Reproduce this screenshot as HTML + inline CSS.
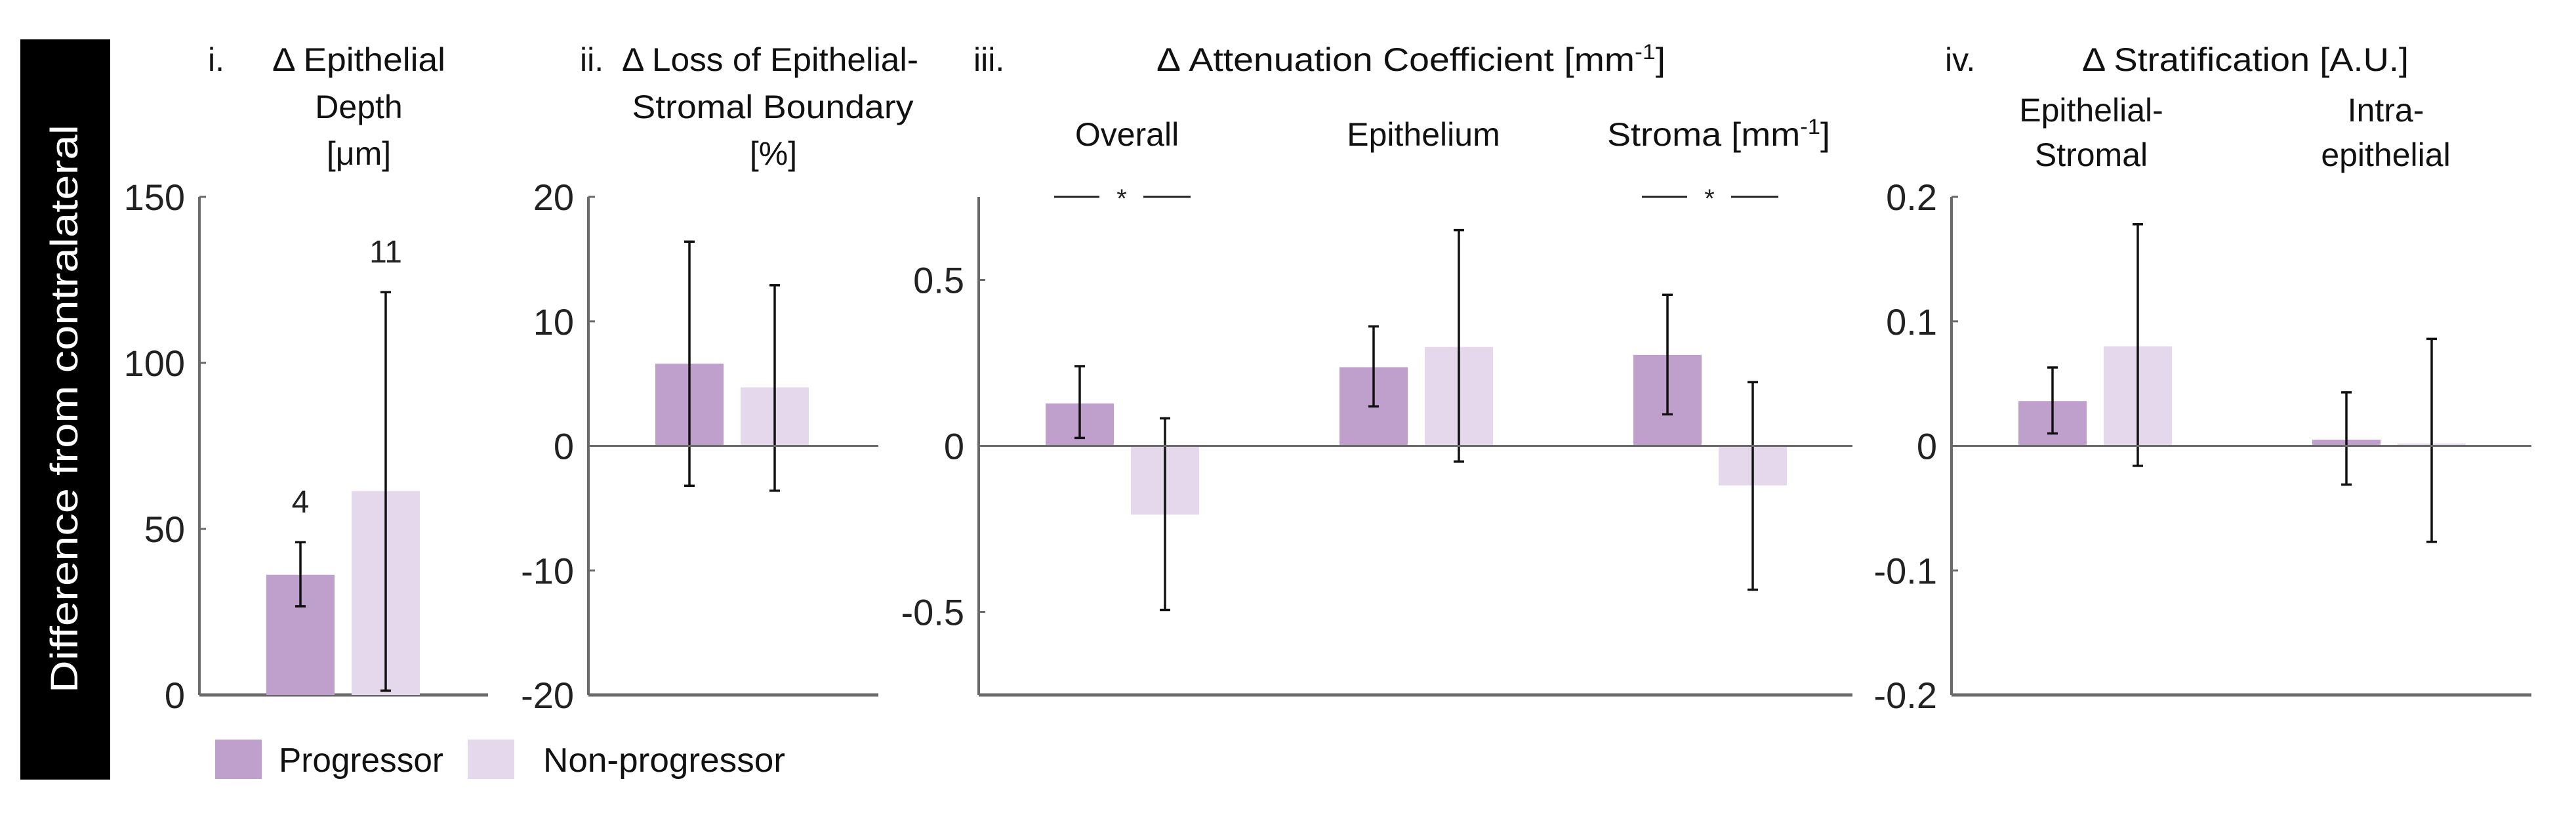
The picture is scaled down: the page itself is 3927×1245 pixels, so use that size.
<!DOCTYPE html>
<html><head><meta charset="utf-8"><style>
html,body{margin:0;padding:0;background:#fff;}
svg{display:block;font-family:"Liberation Sans",sans-serif;}
</style></head><body>
<svg id="chart" width="3927" height="1245" viewBox="0 0 3927 1245" xmlns="http://www.w3.org/2000/svg">
<rect x="31" y="60" width="137" height="1128" fill="#000"/>
<text transform="translate(118,623) rotate(-90)" text-anchor="middle" font-size="58" fill="#fff" textLength="866" lengthAdjust="spacingAndGlyphs">Difference from contralateral</text>

<g font-size="50" fill="#111">
<text x="317" y="108">i.</text>
<text x="547" y="108" text-anchor="middle" textLength="264" lengthAdjust="spacingAndGlyphs">Δ Epithelial</text>
<text x="547" y="180" text-anchor="middle">Depth</text>
<text x="547" y="251" text-anchor="middle">[μm]</text>
<text x="884" y="108">ii.</text>
<text x="1174" y="108" text-anchor="middle" textLength="452" lengthAdjust="spacingAndGlyphs">Δ Loss of Epithelial-</text>
<text x="1178" y="180" text-anchor="middle" textLength="429" lengthAdjust="spacingAndGlyphs">Stromal Boundary</text>
<text x="1179" y="251" text-anchor="middle">[%]</text>
<text x="1484" y="108">iii.</text>
<text x="2151" y="108" text-anchor="middle" textLength="776" lengthAdjust="spacingAndGlyphs">Δ Attenuation Coefficient [mm<tspan dy="-18" font-size="32">-1</tspan><tspan dy="18">]</tspan></text>
<text x="1718" y="222" text-anchor="middle">Overall</text>
<text x="2170" y="222" text-anchor="middle">Epithelium</text>
<text x="2620" y="222" text-anchor="middle" textLength="340" lengthAdjust="spacingAndGlyphs">Stroma [mm<tspan dy="-18" font-size="32">-1</tspan><tspan dy="18">]</tspan></text>
<text x="2965" y="108">iv.</text>
<text x="3423" y="108" text-anchor="middle" textLength="498" lengthAdjust="spacingAndGlyphs">Δ Stratification [A.U.]</text>
<text x="3188" y="185" text-anchor="middle">Epithelial-</text>
<text x="3188" y="253" text-anchor="middle">Stromal</text>
<text x="3637" y="185" text-anchor="middle">Intra-</text>
<text x="3637" y="253" text-anchor="middle">epithelial</text>
</g>

<g font-size="52" fill="#111">
<rect x="328" y="1127" width="71" height="60" fill="#bfa0cc"/>
<text x="425" y="1176" textLength="251" lengthAdjust="spacingAndGlyphs">Progressor</text>
<rect x="713" y="1127" width="71" height="60" fill="#e6d8ec"/>
<text x="828" y="1176" textLength="369" lengthAdjust="spacingAndGlyphs">Non-progressor</text>
</g>
<g id="plots"></g>
</svg>
<script>
// Panel i: epithelial depth
const catsI = ["Depth"];
const progI = [36.2], progILo = [26.7], progIHi = [46];
const nonI = [61.4], nonILo = [1.3], nonIHi = [121.3];
const ticksI = [0, 50, 100, 150];
const countsI = ["4", "11"];
// Panel ii: loss of boundary
const catsII = ["Boundary"];
const progII = [6.6], progIILo = [-3.2], progIIHi = [16.4];
const nonII = [4.7], nonIILo = [-3.6], nonIIHi = [12.9];
const ticksII = [-20, -10, 0, 10, 20];
// Panel iii: attenuation
const catsIII = ["Overall", "Epithelium", "Stroma"];
const progIII = [0.128, 0.237, 0.274], progIIILo = [0.024, 0.119, 0.095], progIIIHi = [0.24, 0.36, 0.455];
const nonIII = [-0.207, 0.298, -0.119], nonIIILo = [-0.494, -0.047, -0.433], nonIIIHi = [0.083, 0.65, 0.192];
const ticksIII = [-0.5, 0, 0.5];
const sigIII = [true, false, true];
// Panel iv: stratification
const catsIV = ["Epithelial-Stromal", "Intra-epithelial"];
const progIV = [0.036, 0.005], progIVLo = [0.010, -0.031], progIVHi = [0.063, 0.043];
const nonIV = [0.080, 0.002], nonIVLo = [-0.016, -0.077], nonIVHi = [0.178, 0.086];
const ticksIV = [-0.2, -0.1, 0, 0.1, 0.2];

const NS = "http://www.w3.org/2000/svg";
const root = document.getElementById("plots");
function mk(tag, attrs, parent) {
  const e = document.createElementNS(NS, tag);
  for (const k in attrs) e.setAttribute(k, attrs[k]);
  (parent || root).appendChild(e);
  return e;
}
const TOP = 300, BOT = 1059;
function panel(p) {
  const g = mk("g", {});
  
  
  const y = v => BOT - (v - p.min) / (p.max - p.min) * (BOT - TOP);
  const xc = i => p.x0 + 219 + i * 448;
  // axes
  const ya = mk("line", {x1: p.x0, x2: p.x0, y1: TOP, y2: BOT, stroke: "#6a6a6a", "stroke-width": 4}, g);
  
  
  const xa = mk("line", {x1: p.x0, x2: p.x1, y1: BOT, y2: BOT, stroke: "#6a6a6a", "stroke-width": 5}, g);
  
  
  p.ticks.forEach(t => {
    const tk = mk("line", {x1: p.x0, x2: p.x0 + 10, y1: y(t), y2: y(t), stroke: "#6a6a6a", "stroke-width": 3}, g);
    
    
    const tl = mk("text", {x: p.x0 - 22, y: y(t) + 20, "text-anchor": "end", "font-size": 56, fill: "#222"}, g);
    
    
    tl.textContent = String(t);
  });
  p.cats.forEach((c, i) => {
    [[p.prog[i], p.pLo[i], p.pHi[i], -65, "#bfa0cc", "bar-progressor"], [p.non[i], p.nLo[i], p.nHi[i], 65, "#e6d8ec", "bar-non-progressor"]].forEach(b => {
      const cx = xc(i) + b[3];
      const y0 = y(0), yv = y(b[0]);
      const r = mk("rect", {x: cx - 52, width: 104, y: Math.min(y0, yv), height: Math.max(Math.abs(y0 - yv), 1), fill: b[4]}, g);
      
      
      const eb = mk("path", {d: `M${cx},${y(b[1])}V${y(b[2])}M${cx - 8},${y(b[1])}H${cx + 8}M${cx - 8},${y(b[2])}H${cx + 8}`, stroke: "#111", "stroke-width": 3.5, fill: "none"}, g);
      
      
    });
    if (p.sig && p.sig[i]) {
      const sy = TOP;
      const s = mk("path", {d: `M${xc(i) - 104},${sy}h69M${xc(i) + 32},${sy}h72`, stroke: "#222", "stroke-width": 3}, g);
      
      
      const st = mk("text", {x: xc(i) - 1, y: sy + 16, "text-anchor": "middle", "font-size": 40, fill: "#222"}, g);
      
      
      st.textContent = "*";
    }
  });
  if (p.min < 0) {
    const z = mk("line", {x1: p.x0, x2: p.x1, y1: y(0), y2: y(0), stroke: "#6a6a6a", "stroke-width": 3}, g);
    
    
  }
  return {g, y, xc};
}
const pI = panel({name: "panel-epithelial-depth", x0: 304, x1: 744, min: 0, max: 150, ticks: ticksI, cats: catsI, prog: progI, pLo: progILo, pHi: progIHi, non: nonI, nLo: nonILo, nHi: nonIHi});
[[progIHi[0], -65], [nonIHi[0], 65]].forEach((d, k) => {
  const t = mk("text", {x: pI.xc(0) + d[1], y: pI.y(d[0]) - 45, "text-anchor": "middle", "font-size": 48, fill: "#222"}, pI.g);
  
  
  t.textContent = countsI[k];
});
panel({name: "panel-boundary-loss", x0: 897, x1: 1339, min: -20, max: 20, ticks: ticksII, cats: catsII, prog: progII, pLo: progIILo, pHi: progIIHi, non: nonII, nLo: nonIILo, nHi: nonIIHi});
panel({name: "panel-attenuation", x0: 1492, x1: 2824, min: -0.75, max: 0.75, ticks: ticksIII, cats: catsIII, prog: progIII, pLo: progIIILo, pHi: progIIIHi, non: nonIII, nLo: nonIIILo, nHi: nonIIIHi, sig: sigIII});
panel({name: "panel-stratification", x0: 2975, x1: 3859, min: -0.2, max: 0.2, ticks: ticksIV, cats: catsIV, prog: progIV, pLo: progIVLo, pHi: progIVHi, non: nonIV, nLo: nonIVLo, nHi: nonIVHi});
</script>
</body></html>
